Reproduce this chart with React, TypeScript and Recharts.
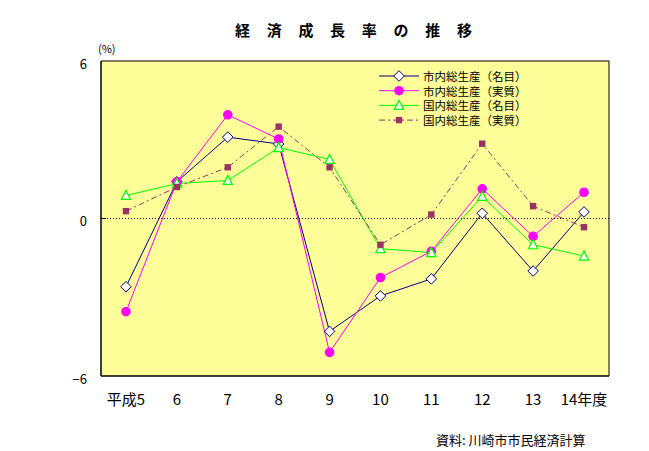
import React from 'react';
import { LineChart, Line, XAxis, YAxis, CartesianGrid, ReferenceLine } from 'recharts';

const categories = ['平成5', '6', '7', '8', '9', '10', '11', '12', '13', '14年度'];
const cityNominal = [-2.6, 1.4, 3.1, 2.84, -4.3, -2.95, -2.3, 0.2, -2.0, 0.25];
const cityReal = [-3.55, 1.4, 3.95, 3.03, -5.1, -2.25, -1.25, 1.13, -0.68, 1.0];
const nationNominal = [0.88, 1.33, 1.45, 2.7, 2.25, -1.15, -1.3, 0.84, -1.0, -1.43];
const nationReal = [0.28, 1.2, 1.95, 3.5, 1.95, -1.0, 0.15, 2.85, 0.47, -0.33];
const seriesNames = ['市内総生産（名目）', '市内総生産（実質）', '国内総生産（名目）', '国内総生産（実質）'];
const yTicks = [-6, 0, 6];
const titleText = '経済成長率の推移';
const unitText = '(%)';
const sourceText = '資料: 川崎市市民経済計算';

const data = categories.map((c, i) => ({
  name: c,
  a: cityNominal[i],
  b: cityReal[i],
  c: nationNominal[i],
  d: nationReal[i],
}));

const FONT = '"Noto Sans CJK JP", "Noto Sans", sans-serif';
const PLOT_LEFT = 101;

const diamond = (cx: number, cy: number, color: string, key?: any) => (
  <path key={key} d={`M${cx},${cy - 5.3}L${cx + 5.3},${cy}L${cx},${cy + 5.3}L${cx - 5.3},${cy}Z`} fill="#fff" stroke={color} strokeWidth={1} />
);
const circle = (cx: number, cy: number, color: string, key?: any) => (
  <circle key={key} cx={cx} cy={cy} r={4.8} fill={color} stroke={color} strokeWidth={0} />
);
const triangle = (cx: number, cy: number, color: string, key?: any) => (
  <path key={key} d={`M${cx},${cy - 5}L${cx + 4.6},${cy + 4}L${cx - 4.6},${cy + 4}Z`} fill="#fff" stroke={color} strokeWidth={1.2} />
);
const square = (cx: number, cy: number, color: string, key?: any) => (
  <rect key={key} x={cx - 3.2} y={cy - 3.2} width={6.4} height={6.4} fill={color} />
);

const series = [
  { key: 'a', name: seriesNames[0], color: '#000080', dash: undefined as string | undefined, marker: diamond },
  { key: 'b', name: seriesNames[1], color: '#FF00FF', dash: undefined as string | undefined, marker: circle },
  { key: 'c', name: seriesNames[2], color: '#00FF00', dash: undefined as string | undefined, marker: triangle },
  { key: 'd', name: seriesNames[3], color: '#993366', dash: '6 3 2 3', marker: square },
];

const YTick = (props: any) => {
  const { x, y, payload } = props;
  const v = payload.value as number;
  const label = v < 0 ? `−${Math.abs(v)}` : `${v}`;
  return (
    <g>
      <text x={x} y={y + 2} textAnchor="end" dominantBaseline="central" fontSize={13} fontFamily={FONT} fill="#000">
        {label}
      </text>
      {v === 0 && <line x1={PLOT_LEFT} x2={PLOT_LEFT + 5} y1={y} y2={y} stroke="#000" strokeWidth={1} />}
    </g>
  );
};

const XTick = (props: any) => {
  const { x, y, payload } = props;
  return (
    <text x={x} y={y} textAnchor="middle" dominantBaseline="central" fontSize={15} fontFamily={FONT} fill="#000">
      {payload.value}
    </text>
  );
};

const LegendBox = () => (
  <svg width={170} height={62} style={{ position: 'absolute', left: 379, top: 68, display: 'block' }}>
    {series.map((s, i) => {
      const y = 8 + i * 14.7;
      return (
        <g key={s.key}>
          <line x1={0} x2={40} y1={y} y2={y} stroke={s.color} strokeWidth={1} strokeDasharray={s.dash} />
          {s.marker(20, y, s.color)}
          <text x={44} y={y} dominantBaseline="central" fontSize={11.5} fontFamily={FONT} fill="#000">
            {s.name}
          </text>
        </g>
      );
    })}
  </svg>
);

export default function App() {
  return (
    <div style={{ position: 'absolute', left: 0, top: 0, width: 649, height: 451, background: '#fff', fontFamily: FONT }}>
      <div
        style={{
          position: 'absolute',
          left: 235,
          top: 21,
          fontSize: 15,
          fontWeight: 'bold',
          letterSpacing: '16.7px',
          lineHeight: '18px',
          whiteSpace: 'nowrap',
        }}
      >
        {titleText}
      </div>
      <div style={{ position: 'absolute', left: 98, top: 41, fontSize: 11, lineHeight: '14px' }}>{unitText}</div>
      <div style={{ position: 'absolute', left: 436, top: 431, fontSize: 13, lineHeight: '18px', whiteSpace: 'nowrap' }}>
        {sourceText}
      </div>
      <LineChart width={649} height={451} data={data} margin={{ top: 61, right: 40, bottom: 0, left: 0 }}>
        <CartesianGrid
          stroke="#000"
          strokeWidth={1}
          fill="#FFFF99"
          fillOpacity={1}
          horizontalCoordinatesGenerator={(p: any) => [p.offset.top, p.offset.top + p.offset.height]}
          verticalCoordinatesGenerator={(p: any) => [p.offset.left, p.offset.left + p.offset.width]}
        />
        <XAxis
          dataKey="name"
          height={75}
          tickLine={false}
          tickSize={0}
          tickMargin={22}
          axisLine={{ stroke: '#000' }}
          padding={{ left: 25, right: 25 }}
          tick={<XTick />}
          interval={0}
        />
        <YAxis
          width={PLOT_LEFT}
          domain={[-6, 6]}
          ticks={yTicks}
          tickLine={false}
          tickSize={0}
          tickMargin={14}
          axisLine={{ stroke: '#000' }}
          tick={<YTick />}
          interval={0}
        />
        <ReferenceLine y={0} stroke="#000" strokeWidth={1} strokeDasharray="1 2" />
        {series.map((s) => (
          <Line
            key={s.key}
            dataKey={s.key}
            name={s.name}
            type="linear"
            stroke={s.color}
            strokeWidth={1}
            strokeDasharray={s.dash}
            isAnimationActive={false}
            dot={(p: any) => s.marker(p.cx, p.cy, s.color, `${s.key}-${p.index}`)}
            activeDot={false}
          />
        ))}
      </LineChart>
      <LegendBox />
    </div>
  );
}
